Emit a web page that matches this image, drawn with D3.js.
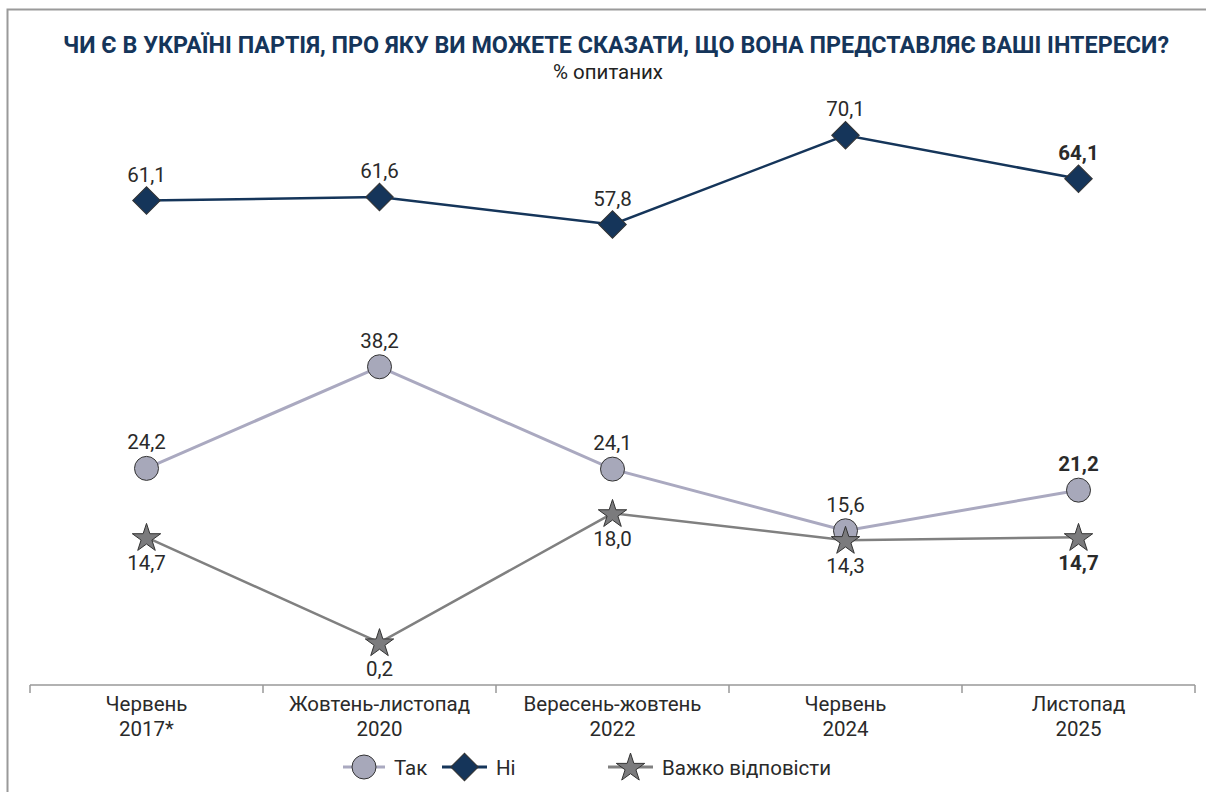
<!DOCTYPE html>
<html>
<head>
<meta charset="utf-8">
<script src="https://cdn.jsdelivr.net/npm/d3@7"></script>
<style>
  body { margin: 0; background: #fff; }
  svg { display: block; font-family: Roboto, "Noto Sans", sans-serif; }
</style>
</head>
<body>
<script>
// data
const periods = ["Червень|2017*", "Жовтень-листопад|2020", "Вересень-жовтень|2022", "Червень|2024", "Листопад|2025"]
const yesVals = [24.2, 38.2, 24.1, 15.6, 21.2]
const noVals = [61.1, 61.6, 57.8, 70.1, 64.1]
const hardVals = [14.7, 0.2, 18.0, 14.3, 14.7]
const seriesNames = ["Так", "Ні", "Важко відповісти"]

const width = 1206, height = 792

const svg = d3.select("body").append("svg")
    .attr("width", width)
    .attr("height", height)

// frame
svg.append("path")
    .attr("d", "M7.5," + height + "V9.5H" + width)
    .attr("fill", "none")
    .attr("stroke", "#9a9a9a")
    .attr("stroke-width", 2)

svg.append("text")
    .attr("x", 616).attr("y", 53)
    .attr("text-anchor", "middle")
    .attr("font-size", 24).attr("font-weight", "bold")
    .attr("fill", "#15355a")
    .attr("textLength", 1106).attr("lengthAdjust", "spacingAndGlyphs")
    .text("ЧИ Є В УКРАЇНІ ПАРТІЯ, ПРО ЯКУ ВИ МОЖЕТЕ СКАЗАТИ, ЩО ВОНА ПРЕДСТАВЛЯЄ ВАШІ ІНТЕРЕСИ?")

svg.append("text")
    .attr("x", 608).attr("y", 79)
    .attr("text-anchor", "middle")
    .attr("font-size", 20).attr("fill", "#222")
    .attr("textLength", 110).attr("lengthAdjust", "spacingAndGlyphs")
    .text("% опитаних")

const x = d3.scaleBand().domain(periods).range([30, 1195])
const cx = d => x(d) + x.bandwidth() / 2
const y = d3.scaleLinear().domain([0, 70]).range([644, 136])

// x axis
const axisY = 685
const ax = svg.append("g")
ax.append("line")
    .attr("x1", 30).attr("x2", 1195)
    .attr("y1", axisY).attr("y2", axisY)
    .attr("stroke", "#999").attr("stroke-width", 1.5)
const edges = periods.map(p => x(p)).concat([x.range()[1]])
ax.selectAll(".tk").data(edges).enter().append("line")
    .attr("x1", d => d).attr("x2", d => d)
    .attr("y1", axisY).attr("y2", axisY + 8)
    .attr("stroke", "#999").attr("stroke-width", 1.5)
const lbl = ax.selectAll(".cat").data(periods).enter().append("text")
    .attr("text-anchor", "middle")
    .attr("font-size", 20.5).attr("fill", "#2a2a2a")
lbl.append("tspan").attr("x", cx).attr("y", 711).text(d => d.split("|")[0])
lbl.append("tspan").attr("x", cx).attr("y", 736).text(d => d.split("|")[1])

const line = d3.line().x((d, i) => cx(periods[i])).y(d => y(d))

const diamond = d3.symbol().type(d3.symbolSquare).size(380)
const star = d3.symbol().type(d3.symbolStar).size(250)

// Так
svg.append("path").datum(yesVals)
    .attr("d", line).attr("fill", "none")
    .attr("stroke", "#aaa9c0").attr("stroke-width", 3)
// Важко
svg.append("path").datum(hardVals)
    .attr("d", line).attr("fill", "none")
    .attr("stroke", "#808080").attr("stroke-width", 2.5)
// Ні
svg.append("path").datum(noVals)
    .attr("d", line).attr("fill", "none")
    .attr("stroke", "#15355a").attr("stroke-width", 2.5)

svg.selectAll(".yes").data(yesVals).enter().append("circle")
    .attr("cx", (d, i) => cx(periods[i])).attr("cy", d => y(d))
    .attr("r", 12)
    .attr("fill", "#a7a8ba").attr("stroke", "#333").attr("stroke-width", 1)

svg.selectAll(".hard").data(hardVals).enter().append("path")
    .attr("d", star)
    .attr("transform", (d, i) => "translate(" + cx(periods[i]) + "," + (y(d) + 1) + ")")
    .attr("fill", "#7b7b7d").attr("stroke", "#333").attr("stroke-width", 1)

svg.selectAll(".no").data(noVals).enter().append("path")
    .attr("d", diamond)
    .attr("transform", (d, i) => "translate(" + cx(periods[i]) + "," + y(d) + ") rotate(45)")
    .attr("fill", "#15355a").attr("stroke", "#333").attr("stroke-width", 1)

const fmt = v => v.toFixed(1).replace(".", ",")
const last = periods.length - 1

function labels(vals, dy) {
    svg.selectAll(null).data(vals).enter().append("text")
        .attr("x", (d, i) => cx(periods[i]))
        .attr("y", d => y(d) + dy)
        .attr("text-anchor", "middle")
        .attr("font-size", 20.5)
        .attr("font-weight", (d, i) => i === last ? "bold" : "normal")
        .attr("fill", "#2a2a2a")
        .text(fmt)
}
labels(yesVals, -19)
labels(noVals, -19)
labels(hardVals, 33)

// legend
const lg = svg.append("g").attr("transform", "translate(0,767)")
const items = [
    {x: 343, w: 42, name: seriesNames[0], color: "#aaa9c0", kind: "circle"},
    {x: 442, w: 45, name: seriesNames[1], color: "#15355a", kind: "diamond"},
    {x: 608, w: 45, name: seriesNames[2], color: "#808080", kind: "star"}
]
items.forEach(it => {
    const g = lg.append("g")
    g.append("line").attr("x1", it.x).attr("x2", it.x + it.w)
        .attr("stroke", it.color).attr("stroke-width", 3)
    const mx = it.x + it.w / 2
    if (it.kind === "circle") {
        g.append("circle").attr("cx", mx).attr("r", 12)
            .attr("fill", "#a7a8ba").attr("stroke", "#333")
    } else if (it.kind === "diamond") {
        g.append("path").attr("d", diamond)
            .attr("transform", "translate(" + mx + ",0) rotate(45)")
            .attr("fill", "#15355a").attr("stroke", "#333")
    } else {
        g.append("path").attr("d", star)
            .attr("transform", "translate(" + mx + ",1)")
            .attr("fill", "#7b7b7d").attr("stroke", "#333")
    }
    g.append("text").attr("x", it.x + it.w + 9).attr("y", 8)
        .attr("font-size", 20.5).attr("fill", "#2a2a2a")
        .text(it.name)
})
</script>
</body>
</html>
